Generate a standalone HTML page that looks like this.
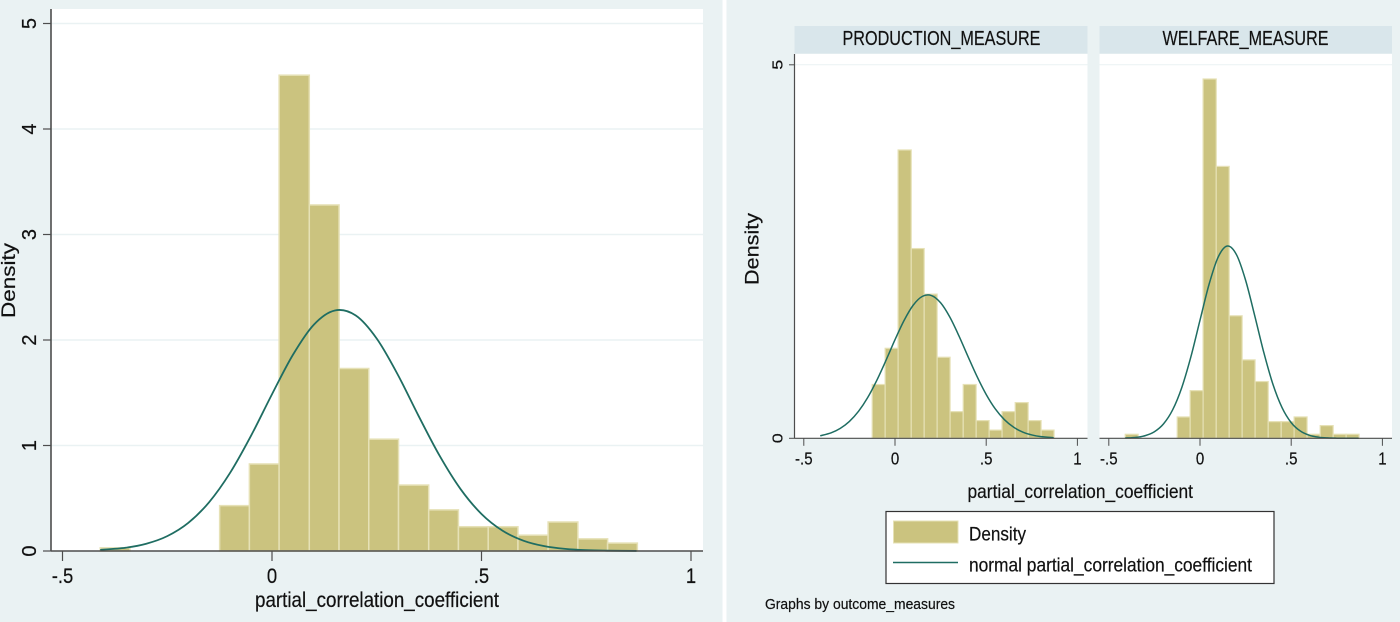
<!DOCTYPE html>
<html lang="en">
<head>
<meta charset="utf-8">
<title>Histograms of partial_correlation_coefficient</title>
<style>
html,body{margin:0;padding:0;background:#eaf2f3;}
svg{display:block;}
text{font-family:"Liberation Sans",Arial,sans-serif;fill:#111;stroke:#111;stroke-width:0.2px;}
</style>
</head>
<body>
<svg id="figure" xmlns="http://www.w3.org/2000/svg" width="1400" height="622" viewBox="0 0 1400 622">
  <rect x="0" y="0" width="1400" height="622" fill="#eaf2f3"/>
  <rect x="722.5" y="0" width="4" height="622" fill="#ffffff"/>

  <g id="overall-chart"></g>
  <text x="255" y="607" font-size="21" textLength="244" lengthAdjust="spacingAndGlyphs">partial_correlation_coefficient</text>
  <text transform="translate(15,318) rotate(-90)" font-size="19.5" textLength="75" lengthAdjust="spacingAndGlyphs">Density</text>

  <rect x="794.5" y="26" width="293" height="27.5" fill="#d9e6eb"/>
  <text x="842.5" y="45" font-size="20" textLength="198" lengthAdjust="spacingAndGlyphs">PRODUCTION_MEASURE</text>
  <rect x="1099.5" y="26" width="292.5" height="27.5" fill="#d9e6eb"/>
  <text x="1162.5" y="45" font-size="20" textLength="166" lengthAdjust="spacingAndGlyphs">WELFARE_MEASURE</text>

  <g id="production-chart"></g>
  <g id="welfare-chart"></g>

  <text transform="translate(758.5,285) rotate(-90)" font-size="19" textLength="72" lengthAdjust="spacingAndGlyphs">Density</text>
  <text x="967.5" y="498" font-size="19.5" textLength="225.5" lengthAdjust="spacingAndGlyphs">partial_correlation_coefficient</text>

  <g>
    <rect x="886" y="511.5" width="388" height="72" fill="#ffffff" stroke="#333333" stroke-width="1.2"/>
    <rect x="893.5" y="521" width="64.5" height="22" fill="#cbc37f" stroke="#e6e1b6" stroke-width="1"/>
    <text x="969" y="540.5" font-size="19.5" textLength="57" lengthAdjust="spacingAndGlyphs">Density</text>
    <line x1="893" y1="562.5" x2="958" y2="562.5" stroke="#1f6d62" stroke-width="1.5"/>
    <text x="969" y="571.5" font-size="19.5" textLength="283" lengthAdjust="spacingAndGlyphs">normal partial_correlation_coefficient</text>
  </g>
  <text x="765" y="609" font-size="14.5" textLength="190" lengthAdjust="spacingAndGlyphs">Graphs by outcome_measures</text>
</svg>

<script>
// ---- Data ----
const binEdges = [-0.41,-0.339,-0.268,-0.196,-0.125,-0.054,0.017,0.089,0.16,0.231,0.302,0.374,0.445,0.516,0.587,0.659,0.73,0.801,0.872];

const overallDensity    = [0.03,0,0,0,0.43,0.825,4.51,3.28,1.73,1.06,0.625,0.39,0.23,0.23,0.15,0.275,0.115,0.075];
const productionDensity = [0,0,0,0,0.72,1.205,3.86,2.54,1.93,1.085,0.357,0.72,0.237,0.11,0.357,0.478,0.237,0.11];
const welfareDensity    = [0.054,0,0,0,0.286,0.638,4.81,3.64,1.64,1.05,0.76,0.223,0.223,0.286,0.054,0.17,0.054,0.054];

const curveX = [-0.41,-0.35,-0.30,-0.25,-0.20,-0.15,-0.10,-0.05,0,0.05,0.10,0.15,0.20,0.25,0.30,0.35,0.40,0.45,0.50,0.55,0.60,0.65,0.70,0.75,0.80,0.87];

const overallCurve    = [0.011,0.031,0.069,0.141,0.266,0.463,0.741,1.093,1.486,1.86,2.146,2.28,2.232,2.013,1.673,1.279,0.903,0.587,0.351,0.193,0.098,0.046,0.02,0.008,0.003,0.0004];
const productionCurve = [0.034,0.074,0.133,0.226,0.361,0.544,0.775,1.04,1.32,1.579,1.783,1.90,1.911,1.814,1.625,1.374,1.096,0.826,0.587,0.393,0.249,0.149,0.084,0.045,0.022,0.008];
const welfareCurve    = [0.0035,0.013,0.036,0.088,0.193,0.381,0.679,1.091,1.581,2.064,2.428,2.574,2.458,2.116,1.642,1.147,0.722,0.41,0.21,0.097,0.04,0.015,0.005,0.0015,0.0005,0.0001];

const xTickValues = [-0.5,0,0.5,1];
const xTickLabels = ['-.5','0','.5','1'];
const overallYTickValues = [0,1,2,3,4,5];
const overallYTickLabels = ['0','1','2','3','4','5'];
const facetYTickValues = [0,5];
const facetYTickLabels = ['0','5'];

// ---- Drawing ----
const SVG_NS = 'http://www.w3.org/2000/svg';

function make(tag, parent) {
  const el = document.createElementNS(SVG_NS, tag);
  parent.appendChild(el);
  return el;
}

function smoothPath(pts) {
  let d = 'M' + pts[0][0].toFixed(2) + ' ' + pts[0][1].toFixed(2);
  for (let i = 0; i < pts.length - 1; i++) {
    const p0 = pts[Math.max(0, i - 1)];
    const p1 = pts[i];
    const p2 = pts[i + 1];
    const p3 = pts[Math.min(pts.length - 1, i + 2)];
    const c1x = p1[0] + (p2[0] - p0[0]) / 6;
    const c1y = p1[1] + (p2[1] - p0[1]) / 6;
    const c2x = p2[0] - (p3[0] - p1[0]) / 6;
    const c2y = p2[1] - (p3[1] - p1[1]) / 6;
    d += 'C' + c1x.toFixed(2) + ' ' + c1y.toFixed(2) + ' ' + c2x.toFixed(2) + ' ' + c2y.toFixed(2) + ' ' + p2[0].toFixed(2) + ' ' + p2[1].toFixed(2);
  }
  return d;
}

function drawChart(root, cfg, density, curve, yTickValues, yTickLabels) {
  const sx = v => cfg.x0 + v * cfg.xUnit;
  const sy = v => cfg.y0 - v * cfg.yUnit;

  const plot = make('rect', root);
  
  
  plot.setAttribute('x', cfg.left);
  plot.setAttribute('y', cfg.top);
  plot.setAttribute('width', cfg.right - cfg.left);
  plot.setAttribute('height', cfg.y0 - cfg.top);
  plot.setAttribute('fill', '#ffffff');

  yTickValues.forEach(v => {
    if (v === 0) return;
    const grid = make('line', root);
    
    
    grid.setAttribute('x1', cfg.left);
    grid.setAttribute('x2', cfg.right);
    grid.setAttribute('y1', sy(v));
    grid.setAttribute('y2', sy(v));
    grid.setAttribute('stroke', '#eaf2f3');
    grid.setAttribute('stroke-width', cfg.gridWidth);
  });

  density.forEach((d, i) => {
    if (d <= 0) return;
    const bar = make('rect', root);
    
    
    bar.setAttribute('x', sx(binEdges[i]));
    bar.setAttribute('y', sy(d));
    bar.setAttribute('width', sx(binEdges[i + 1]) - sx(binEdges[i]));
    bar.setAttribute('height', sy(0) - sy(d));
    bar.setAttribute('fill', '#cbc37f');
    bar.setAttribute('stroke', '#e6e1b6');
    bar.setAttribute('stroke-width', cfg.barStroke);
  });

  const line = make('path', root);
  
  
  line.setAttribute('d', smoothPath(curveX.map((x, i) => [sx(x), sy(curve[i])])));
  line.setAttribute('fill', 'none');
  line.setAttribute('stroke', '#1f6d62');
  line.setAttribute('stroke-width', cfg.lineWidth);

  const xAxis = make('line', root);
  
  
  xAxis.setAttribute('x1', cfg.left);
  xAxis.setAttribute('x2', cfg.right);
  xAxis.setAttribute('y1', cfg.y0);
  xAxis.setAttribute('y2', cfg.y0);
  xAxis.setAttribute('stroke', '#4d4d4d');
  xAxis.setAttribute('stroke-width', cfg.axisWidth);

  xTickValues.forEach((v, i) => {
    const tick = make('line', root);
    
    
    tick.setAttribute('x1', sx(v));
    tick.setAttribute('x2', sx(v));
    tick.setAttribute('y1', cfg.y0);
    tick.setAttribute('y2', cfg.y0 + cfg.tickLength);
    tick.setAttribute('stroke', '#4d4d4d');
    tick.setAttribute('stroke-width', cfg.tickWidth);

    const label = make('text', root);
    
    
    label.setAttribute('transform', 'translate(' + sx(v) + ',' + cfg.xLabelY + ') scale(' + cfg.xLabelScale + ',1)');
    label.setAttribute('text-anchor', 'middle');
    label.setAttribute('font-size', cfg.xLabelSize);
    label.textContent = xTickLabels[i];
  });

  if (!cfg.showYAxis) return;

  const yAxis = make('line', root);
  
  
  yAxis.setAttribute('x1', cfg.left);
  yAxis.setAttribute('x2', cfg.left);
  yAxis.setAttribute('y1', cfg.top);
  yAxis.setAttribute('y2', cfg.y0);
  yAxis.setAttribute('stroke', '#4d4d4d');
  yAxis.setAttribute('stroke-width', cfg.axisWidth);

  yTickValues.forEach((v, i) => {
    const tick = make('line', root);
    
    
    tick.setAttribute('x1', cfg.left - cfg.yTickLength);
    tick.setAttribute('x2', cfg.left);
    tick.setAttribute('y1', sy(v));
    tick.setAttribute('y2', sy(v));
    tick.setAttribute('stroke', '#4d4d4d');
    tick.setAttribute('stroke-width', cfg.tickWidth);

    const label = make('text', root);
    
    
    label.setAttribute('transform', 'translate(' + cfg.yLabelX + ',' + sy(v) + ') rotate(-90) scale(' + cfg.yLabelScale + ',1)');
    label.setAttribute('text-anchor', 'middle');
    label.setAttribute('font-size', cfg.yLabelSize);
    label.textContent = yTickLabels[i];
  });
}

const overallLayout = {left:51, right:703, top:9, x0:272, xUnit:419, y0:551, yUnit:105.5, showYAxis:true,
  gridWidth:1.5, barStroke:1.5, lineWidth:1.8, axisWidth:1.6, tickWidth:1.2, tickLength:10, yTickLength:8,
  xLabelY:583, xLabelSize:21, xLabelScale:0.88, yLabelX:36, yLabelSize:20, yLabelScale:1};

const productionLayout = {left:794.5, right:1087.5, top:54, x0:895, xUnit:182.4, y0:438.3, yUnit:74.7, showYAxis:true,
  gridWidth:1, barStroke:1.2, lineWidth:1.5, axisWidth:1.2, tickWidth:1, tickLength:7.5, yTickLength:5.5,
  xLabelY:464.5, xLabelSize:17.5, xLabelScale:0.86, yLabelX:782.3, yLabelSize:15, yLabelScale:1.2};

const welfareLayout = {left:1099.5, right:1392, top:54, x0:1200, xUnit:182.4, y0:438.3, yUnit:74.7, showYAxis:false,
  gridWidth:1, barStroke:1.2, lineWidth:1.5, axisWidth:1.2, tickWidth:1, tickLength:7.5, yTickLength:0,
  xLabelY:464.5, xLabelSize:17.5, xLabelScale:0.86, yLabelX:0, yLabelSize:15, yLabelScale:1.2};

drawChart(document.getElementById('overall-chart'), overallLayout, overallDensity, overallCurve, overallYTickValues, overallYTickLabels);
drawChart(document.getElementById('production-chart'), productionLayout, productionDensity, productionCurve, facetYTickValues, facetYTickLabels);
drawChart(document.getElementById('welfare-chart'), welfareLayout, welfareDensity, welfareCurve, facetYTickValues, facetYTickLabels);
</script>
</body>
</html>
